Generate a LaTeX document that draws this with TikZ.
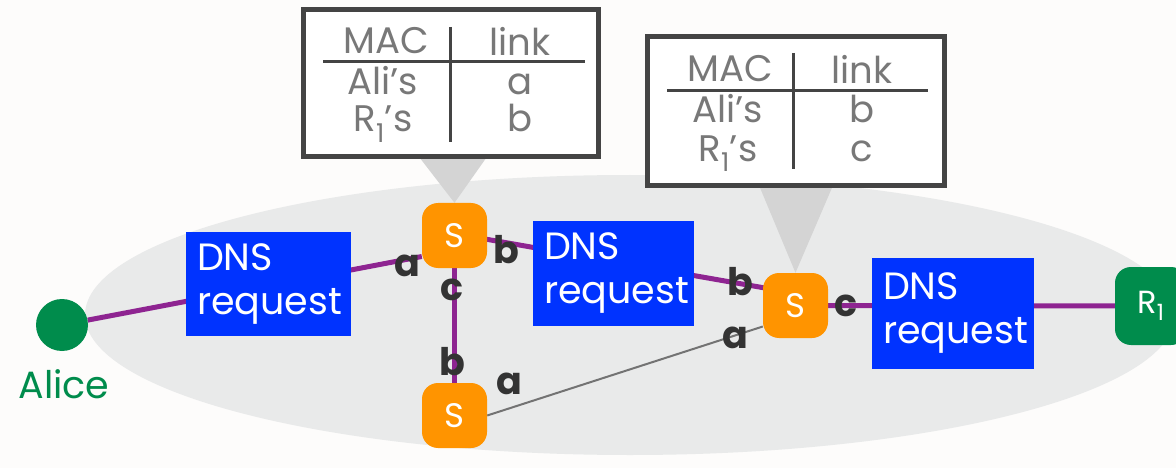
\documentclass[tikz,border=0pt]{standalone}
\usepackage{fontspec}
\setmainfont{Poppins}
\usetikzlibrary{calc,backgrounds}
\definecolor{netpurple}{RGB}{142,36,145}
\definecolor{dnsblue}{RGB}{0,51,255}
\definecolor{sworange}{RGB}{255,148,0}
\definecolor{algreen}{RGB}{0,140,76}
\definecolor{bggray}{RGB}{233,234,234}
\definecolor{callgray}{RGB}{212,212,212}
\definecolor{framegray}{RGB}{68,68,68}
\definecolor{tabtext}{RGB}{120,120,120}
\definecolor{portcol}{RGB}{51,51,51}
\definecolor{pagebg}{RGB}{253,252,251}
\begin{document}
\begin{tikzpicture}[x=1pt,y=-1pt,
  sw/.style={fill=sworange,rounded corners=16pt,minimum width=65pt,minimum height=65pt,inner sep=0pt,text=white,font=\fontsize{34}{40}\selectfont},
  dns/.style={fill=dnsblue,text=white,align=left,inner xsep=11pt,inner ysep=0pt,font=\fontsize{38}{44}\selectfont},
  link/.style={draw=netpurple,line width=5pt},
  thin/.style={draw=gray!90!black,line width=2pt},
  port/.style={text=portcol,font=\bfseries\fontsize{38}{40}\selectfont,inner sep=0pt},
  tabframe/.style={draw=framegray,line width=5pt,fill=white,inner sep=0pt},
  tabrule/.style={draw=framegray,line width=3pt},
  tabcell/.style={text=tabtext,font=\fontsize{37}{37}\selectfont,inner sep=0pt,align=center},
  callout/.style={fill=callgray}]
\useasboundingbox (0,0) rectangle (1176,468);
% nodes
\node[circle,fill=algreen,minimum size=52pt,inner sep=0pt] (alice) at (62,325) {};
\node[text=algreen,font=\fontsize{38}{40}\selectfont,inner sep=0pt] (alicelbl) at (64,384) {Alice};
\node[sw] (s1) at (454.5,235.5) {S};
\node[sw] (s2) at (454.5,415.5) {S};
\node[sw] (s3) at (795.5,305.5) {S};
\node[fill=algreen,rounded corners=16pt,minimum width=72pt,minimum height=78pt,inner sep=0pt,text=white,font=\fontsize{32}{36}\selectfont] (r1) at (1151,306) {R\textsubscript{1}};
\node[dns,minimum width=165pt,minimum height=104pt,text width=143pt] (d1) at (268.5,284) {DNS\\request};
\node[dns,minimum width=161pt,minimum height=105pt,text width=139pt] (d2) at (613.5,273.5) {DNS\\request};
\node[dns,minimum width=162pt,minimum height=111pt,text width=140pt] (d3) at (953,313.5) {DNS\\request};
% port labels
\node[port] (pa1) at (407,266) {a};
\node[port] (pb1) at (506,250) {b};
\node[port] (pc1) at (452,290) {c};
\node[port] (pb2) at (452,362) {b};
\node[port] (pa2) at (509,384) {a};
\node[port] (pb3) at (740,282) {b};
\node[port] (pa3) at (735,338) {a};
\node[port] (pc3) at (846,306) {c};
% table 1
\node[tabframe,minimum width=295pt,minimum height=147pt] (t1) at (450.5,83.5) {};
\coordinate (t1vtop) at (450,27);
\coordinate (t1vbot) at (450,142);
\coordinate (t1hl) at (323,62);
\coordinate (t1hr) at (585,62);
\draw[tabrule] (t1vtop) -- (t1vbot);
\draw[tabrule] (t1hl) -- (t1hr);
\node[tabcell] (t1h1) at (386,41) {MAC};
\node[tabcell] (t1h2) at (520,41) {link};
\node[tabcell,anchor=base] (t1c1) at (383,132) {Ali’s\\[0pt]R\textsubscript{1}’s};
\node[tabcell,anchor=base] (t1c2) at (520,132) {a\\[0pt]b};
% table 2
\node[tabframe,minimum width=297pt,minimum height=149pt] (t2) at (795.5,111.5) {};
\coordinate (t2vtop) at (793,53);
\coordinate (t2vbot) at (793,169);
\coordinate (t2hl) at (667,91);
\coordinate (t2hr) at (928,91);
\draw[tabrule] (t2vtop) -- (t2vbot);
\draw[tabrule] (t2hl) -- (t2hr);
\node[tabcell] (t2h1) at (730,69) {MAC};
\node[tabcell] (t2h2) at (862,69) {link};
\node[tabcell,anchor=base] (t2c1) at (728,161) {Ali’s\\[2pt]R\textsubscript{1}’s};
\node[tabcell,anchor=base] (t2c2) at (862,161) {b\\[2pt]c};
\begin{scope}[on background layer]
  \fill[pagebg] (0,0) rectangle (1176,468);
  \fill[bggray] (630,315) ellipse [x radius=545, y radius=140];
  \fill[callout] ($(t1.south)+(-31,-2)$) -- ($(t1.south)+(36,-2)$) -- (s1.north) -- cycle;
  \fill[callout] ($(t2.south)+(-36,-2)$) -- ($(t2.south)+(37,-2)$) -- (s3.north) -- cycle;
  \draw[link] (alice) -- ($(s1.west)+(0,21)$);
  \draw[link] ($(s1.east)+(-5,3)$) -- ($(s3.west)+(5,-17)$);
  \draw[link] (s1) -- (s2);
  \draw[link] (s3) -- (r1);
  \draw[thin] (s2.east) -- ($(s3.west)+(0,21)$);
\end{scope}
\end{tikzpicture}
\end{document}
